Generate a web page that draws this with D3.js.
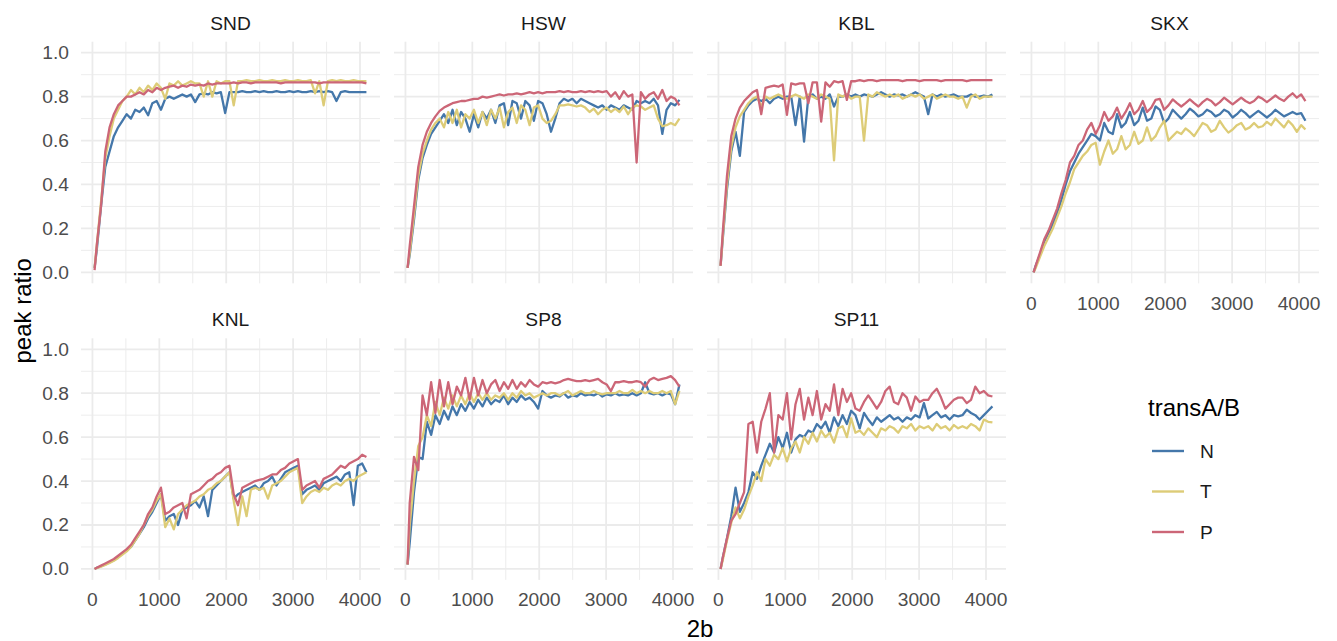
<!DOCTYPE html>
<html>
<head>
<meta charset="utf-8">
<script src="https://cdn.jsdelivr.net/npm/d3@7"></script>
<style>
  body { margin: 0; background: #fff; }
  svg { font-family: "Liberation Sans", Arial, sans-serif; }
</style>
</head>
<body>
<svg id="chart" width="1337" height="641"></svg>
<script>
// x values (2b) shared by every series
const xs = [32, 64, 128, 192, 256, 320, 384, 448, 512,
  576, 640, 704, 768, 832, 896, 960, 1024,
  1088, 1152, 1216, 1280, 1344, 1408, 1472, 1536,
  1600, 1664, 1728, 1792, 1856, 1920, 1984, 2048,
  2112, 2176, 2240, 2304, 2368, 2432, 2496, 2560,
  2624, 2688, 2752, 2816, 2880, 2944, 3008, 3072,
  3136, 3200, 3264, 3328, 3392, 3456, 3520, 3584,
  3648, 3712, 3776, 3840, 3904, 3968, 4032, 4096];

const panelNames = ["SND", "HSW", "KBL", "SKX", "KNL", "SP8", "SP11"];
const seriesNames = ["N", "T", "P"];
const seriesColors = ["#4477AA", "#DDCC77", "#CC6677"];
const xTicks = [0, 1000, 2000, 3000, 4000];
const xMinor = [500, 1500, 2500, 3500];
const yTicks = [0, 0.2, 0.4, 0.6, 0.8, 1.0];
const yMinor = [0.1, 0.3, 0.5, 0.7, 0.9];

// SND
const sndN = [0.02, 0.10, 0.30, 0.48, 0.55, 0.62, 0.66, 0.69, 0.72,
  0.70, 0.74, 0.73, 0.75, 0.715, 0.77, 0.78, 0.74,
  0.79, 0.80, 0.79, 0.80, 0.81, 0.80, 0.81, 0.775,
  0.81, 0.815, 0.81, 0.82, 0.815, 0.82, 0.725, 0.82,
  0.82, 0.82, 0.825, 0.82, 0.82, 0.825, 0.82, 0.825,
  0.82, 0.82, 0.825, 0.82, 0.82, 0.825, 0.82, 0.825,
  0.82, 0.82, 0.825, 0.82, 0.825, 0.82, 0.825, 0.82,
  0.78, 0.82, 0.825, 0.82, 0.82, 0.82, 0.82, 0.82];
const sndT = [0.02, 0.12, 0.32, 0.52, 0.62, 0.70, 0.74, 0.78, 0.80,
  0.83, 0.81, 0.84, 0.82, 0.85, 0.83, 0.86, 0.84,
  0.79, 0.86, 0.85, 0.87, 0.85, 0.86, 0.87, 0.86,
  0.86, 0.80, 0.87, 0.80, 0.87, 0.86, 0.87, 0.87,
  0.76, 0.87, 0.87, 0.875, 0.87, 0.87, 0.875, 0.87,
  0.87, 0.875, 0.87, 0.87, 0.875, 0.87, 0.87, 0.875,
  0.87, 0.87, 0.875, 0.815, 0.87, 0.76, 0.87, 0.875,
  0.87, 0.875, 0.87, 0.87, 0.875, 0.87, 0.87, 0.87];
const sndP = [0.01, 0.12, 0.30, 0.55, 0.66, 0.72, 0.76, 0.78, 0.80,
  0.80, 0.81, 0.82, 0.81, 0.83, 0.82, 0.84, 0.83,
  0.84, 0.845, 0.85, 0.84, 0.85, 0.845, 0.855, 0.85,
  0.855, 0.85, 0.86, 0.855, 0.86, 0.86, 0.86, 0.86,
  0.865, 0.86, 0.865, 0.865, 0.86, 0.865, 0.865, 0.865,
  0.865, 0.865, 0.865, 0.86, 0.865, 0.865, 0.865, 0.865,
  0.865, 0.865, 0.865, 0.865, 0.86, 0.865, 0.865, 0.865,
  0.865, 0.865, 0.865, 0.865, 0.865, 0.865, 0.865, 0.86];

// HSW
const hswN = [0.02, 0.08, 0.24, 0.42, 0.52, 0.58, 0.63, 0.66, 0.69,
  0.72, 0.68, 0.74, 0.67, 0.73, 0.70, 0.64, 0.72,
  0.66, 0.73, 0.70, 0.74, 0.68, 0.76, 0.77, 0.67,
  0.78, 0.77, 0.70, 0.78, 0.76, 0.69, 0.78, 0.77,
  0.72, 0.64, 0.70, 0.77, 0.79, 0.78, 0.79, 0.77,
  0.79, 0.78, 0.77, 0.76, 0.75, 0.76, 0.74, 0.76,
  0.75, 0.74, 0.76, 0.75, 0.74, 0.78, 0.77, 0.78,
  0.77, 0.79, 0.76, 0.63, 0.74, 0.77, 0.76, 0.785];
const hswT = [0.02, 0.09, 0.26, 0.44, 0.54, 0.60, 0.65, 0.68, 0.70,
  0.66, 0.73, 0.68, 0.74, 0.66, 0.72, 0.70, 0.74,
  0.68, 0.73, 0.67, 0.74, 0.70, 0.75, 0.66, 0.73,
  0.75, 0.68, 0.76, 0.74, 0.67, 0.75, 0.76, 0.70,
  0.68, 0.69, 0.72, 0.76, 0.76, 0.765, 0.76, 0.755,
  0.76, 0.75, 0.73, 0.745, 0.72, 0.74, 0.75, 0.73,
  0.745, 0.73, 0.755, 0.72, 0.75, 0.76, 0.755, 0.74,
  0.75, 0.76, 0.70, 0.665, 0.67, 0.68, 0.67, 0.70];
const hswP = [0.02, 0.12, 0.30, 0.48, 0.58, 0.64, 0.68, 0.71, 0.735,
  0.75, 0.76, 0.77, 0.775, 0.78, 0.78, 0.785, 0.79,
  0.79, 0.80, 0.795, 0.80, 0.805, 0.81, 0.805, 0.81,
  0.81, 0.815, 0.81, 0.815, 0.82, 0.815, 0.82, 0.815,
  0.82, 0.82, 0.82, 0.825, 0.82, 0.825, 0.82, 0.82,
  0.825, 0.82, 0.825, 0.82, 0.825, 0.82, 0.825, 0.80,
  0.82, 0.79, 0.825, 0.80, 0.81, 0.50, 0.82, 0.79,
  0.81, 0.82, 0.79, 0.83, 0.78, 0.80, 0.79, 0.76];

// KBL
const kblN = [0.03, 0.15, 0.38, 0.55, 0.64, 0.53, 0.73, 0.76, 0.78,
  0.79, 0.78, 0.79, 0.77, 0.79, 0.80, 0.79, 0.80,
  0.80, 0.67, 0.80, 0.595, 0.80, 0.81, 0.79, 0.80,
  0.79, 0.81, 0.755, 0.80, 0.80, 0.81, 0.80, 0.81,
  0.80, 0.81, 0.805, 0.80, 0.81, 0.82, 0.81, 0.80,
  0.81, 0.805, 0.81, 0.80, 0.81, 0.82, 0.81, 0.80,
  0.72, 0.81, 0.80, 0.81, 0.80, 0.805, 0.81, 0.80,
  0.80, 0.80, 0.81, 0.80, 0.80, 0.805, 0.80, 0.81];
const kblT = [0.03, 0.16, 0.40, 0.57, 0.66, 0.71, 0.74, 0.77, 0.79,
  0.80, 0.755, 0.80, 0.79, 0.80, 0.81, 0.80, 0.79,
  0.80, 0.81, 0.80, 0.79, 0.81, 0.80, 0.79, 0.81,
  0.80, 0.79, 0.51, 0.81, 0.80, 0.81, 0.79, 0.80,
  0.80, 0.60, 0.81, 0.80, 0.82, 0.81, 0.80, 0.81,
  0.80, 0.81, 0.79, 0.80, 0.81, 0.80, 0.81, 0.79,
  0.80, 0.81, 0.79, 0.80, 0.81, 0.80, 0.80, 0.79,
  0.80, 0.75, 0.80, 0.81, 0.79, 0.80, 0.80, 0.80];
const kblP = [0.03, 0.18, 0.44, 0.62, 0.70, 0.75, 0.78, 0.80, 0.82,
  0.83, 0.72, 0.84, 0.845, 0.85, 0.845, 0.855, 0.717,
  0.86, 0.855, 0.86, 0.86, 0.77, 0.865, 0.865, 0.686,
  0.865, 0.845, 0.87, 0.865, 0.87, 0.785, 0.87, 0.87,
  0.875, 0.87, 0.875, 0.875, 0.87, 0.875, 0.875, 0.875,
  0.875, 0.875, 0.87, 0.875, 0.875, 0.875, 0.87, 0.875,
  0.875, 0.875, 0.875, 0.87, 0.875, 0.875, 0.875, 0.875,
  0.875, 0.87, 0.875, 0.875, 0.875, 0.875, 0.875, 0.875];

// SKX
const skxN = [0.00, 0.03, 0.08, 0.14, 0.18, 0.22, 0.27, 0.33, 0.40,
  0.46, 0.50, 0.54, 0.57, 0.60, 0.63, 0.62, 0.60,
  0.68, 0.64, 0.63, 0.72, 0.66, 0.68, 0.73, 0.67,
  0.69, 0.75, 0.69, 0.70, 0.755, 0.74, 0.68, 0.70,
  0.74, 0.72, 0.70, 0.72, 0.745, 0.73, 0.71, 0.72,
  0.74, 0.73, 0.71, 0.72, 0.74, 0.73, 0.705, 0.72,
  0.74, 0.725, 0.705, 0.72, 0.735, 0.72, 0.705, 0.72,
  0.74, 0.725, 0.71, 0.72, 0.73, 0.72, 0.725, 0.69];
const skxT = [0.00, 0.02, 0.07, 0.12, 0.16, 0.20, 0.25, 0.30, 0.36,
  0.41, 0.47, 0.50, 0.53, 0.55, 0.58, 0.59, 0.49,
  0.55, 0.60, 0.54, 0.56, 0.62, 0.56, 0.58, 0.64,
  0.585, 0.60, 0.66, 0.60, 0.62, 0.66, 0.69, 0.60,
  0.62, 0.64, 0.63, 0.655, 0.64, 0.62, 0.65, 0.68,
  0.67, 0.64, 0.65, 0.69, 0.66, 0.636, 0.65, 0.67,
  0.68, 0.65, 0.66, 0.68, 0.66, 0.665, 0.685, 0.67,
  0.70, 0.68, 0.66, 0.69, 0.67, 0.64, 0.67, 0.65];
const skxP = [0.00, 0.03, 0.09, 0.15, 0.19, 0.24, 0.29, 0.36, 0.42,
  0.50, 0.53, 0.58, 0.60, 0.65, 0.68, 0.63, 0.67,
  0.73, 0.69, 0.71, 0.75, 0.70, 0.73, 0.77, 0.72,
  0.74, 0.78, 0.73, 0.75, 0.785, 0.79, 0.74, 0.76,
  0.787, 0.77, 0.755, 0.77, 0.787, 0.77, 0.755, 0.775,
  0.79, 0.78, 0.76, 0.775, 0.795, 0.78, 0.765, 0.78,
  0.795, 0.78, 0.77, 0.78, 0.80, 0.79, 0.775, 0.79,
  0.805, 0.79, 0.78, 0.80, 0.815, 0.795, 0.81, 0.78];

// KNL
const knlN = [0.00, 0.005, 0.012, 0.02, 0.03, 0.04, 0.055, 0.07, 0.085,
  0.10, 0.13, 0.16, 0.19, 0.23, 0.26, 0.30, 0.34,
  0.22, 0.24, 0.25, 0.20, 0.27, 0.28, 0.29, 0.31,
  0.28, 0.33, 0.24, 0.36, 0.38, 0.40, 0.42, 0.44,
  0.32, 0.34, 0.35, 0.36, 0.37, 0.38, 0.36, 0.39,
  0.40, 0.42, 0.38, 0.41, 0.44, 0.45, 0.46, 0.47,
  0.34, 0.36, 0.37, 0.38, 0.36, 0.39, 0.40, 0.41,
  0.42, 0.40, 0.43, 0.44, 0.29, 0.47, 0.48, 0.44];
const knlT = [0.00, 0.004, 0.01, 0.018, 0.027, 0.037, 0.05, 0.065, 0.08,
  0.10, 0.13, 0.16, 0.20, 0.24, 0.27, 0.31, 0.34,
  0.19, 0.23, 0.18, 0.25, 0.27, 0.29, 0.30, 0.31,
  0.33, 0.34, 0.36, 0.37, 0.39, 0.40, 0.42, 0.44,
  0.31, 0.20, 0.33, 0.24, 0.36, 0.37, 0.36, 0.37,
  0.32, 0.38, 0.39, 0.40, 0.42, 0.44, 0.45, 0.46,
  0.30, 0.33, 0.35, 0.36, 0.35, 0.37, 0.36, 0.38,
  0.39, 0.38, 0.40, 0.41, 0.40, 0.42, 0.43, 0.44];
const knlP = [0.00, 0.005, 0.015, 0.025, 0.035, 0.045, 0.06, 0.075, 0.09,
  0.11, 0.14, 0.17, 0.20, 0.25, 0.28, 0.33, 0.37,
  0.25, 0.26, 0.28, 0.29, 0.30, 0.23, 0.34, 0.35,
  0.36, 0.38, 0.40, 0.41, 0.43, 0.44, 0.46, 0.47,
  0.34, 0.29, 0.37, 0.38, 0.39, 0.40, 0.405, 0.41,
  0.42, 0.43, 0.43, 0.45, 0.46, 0.48, 0.49, 0.50,
  0.36, 0.38, 0.39, 0.40, 0.37, 0.41, 0.42, 0.43,
  0.45, 0.47, 0.46, 0.48, 0.49, 0.50, 0.52, 0.51];

// SP8
const sp8N = [0.02, 0.12, 0.35, 0.51, 0.50, 0.67, 0.61, 0.70, 0.66,
  0.72, 0.68, 0.74, 0.70, 0.75, 0.72, 0.76, 0.73,
  0.77, 0.74, 0.78, 0.75, 0.77, 0.76, 0.79, 0.75,
  0.78, 0.76, 0.79, 0.77, 0.78, 0.76, 0.73, 0.81,
  0.79, 0.78, 0.79, 0.785, 0.80, 0.78, 0.79, 0.785,
  0.80, 0.79, 0.795, 0.79, 0.80, 0.785, 0.795, 0.79,
  0.80, 0.79, 0.795, 0.79, 0.80, 0.79, 0.80, 0.85,
  0.80, 0.795, 0.80, 0.79, 0.80, 0.795, 0.75, 0.84];
const sp8T = [0.02, 0.20, 0.40, 0.56, 0.60, 0.70, 0.65, 0.76, 0.70,
  0.78, 0.73, 0.79, 0.74, 0.79, 0.75, 0.80, 0.76,
  0.80, 0.77, 0.80, 0.77, 0.79, 0.78, 0.80, 0.77,
  0.80, 0.78, 0.81, 0.79, 0.80, 0.78, 0.79, 0.80,
  0.79, 0.80, 0.80, 0.79, 0.80, 0.81, 0.79, 0.80,
  0.81, 0.80, 0.80, 0.81, 0.80, 0.795, 0.80, 0.80,
  0.80, 0.81, 0.80, 0.80, 0.815, 0.80, 0.81, 0.80,
  0.81, 0.80, 0.80, 0.81, 0.80, 0.81, 0.75, 0.81];
const sp8P = [0.02, 0.30, 0.51, 0.45, 0.79, 0.70, 0.85, 0.71, 0.86,
  0.74, 0.85, 0.75, 0.83, 0.79, 0.87, 0.77, 0.87,
  0.79, 0.86, 0.80, 0.84, 0.86, 0.81, 0.85, 0.82,
  0.86, 0.82, 0.85, 0.83, 0.86, 0.84, 0.83, 0.85,
  0.845, 0.85, 0.845, 0.85, 0.86, 0.865, 0.86, 0.855,
  0.855, 0.86, 0.855, 0.86, 0.865, 0.85, 0.84, 0.81,
  0.85, 0.85, 0.855, 0.85, 0.85, 0.855, 0.85, 0.83,
  0.86, 0.87, 0.86, 0.865, 0.87, 0.878, 0.86, 0.83];

// SP11
const sp11N = [0.00, 0.05, 0.14, 0.24, 0.37, 0.26, 0.30, 0.35, 0.44,
  0.41, 0.47, 0.52, 0.57, 0.53, 0.60, 0.55, 0.62,
  0.53, 0.59, 0.61, 0.60, 0.63, 0.62, 0.66, 0.64,
  0.67, 0.62, 0.69, 0.65, 0.70, 0.66, 0.72, 0.70,
  0.64, 0.71, 0.68, 0.655, 0.69, 0.67, 0.685, 0.70,
  0.68, 0.69, 0.67, 0.69, 0.68, 0.70, 0.69, 0.755,
  0.685, 0.70, 0.715, 0.69, 0.70, 0.68, 0.70, 0.695,
  0.70, 0.725, 0.71, 0.70, 0.68, 0.70, 0.72, 0.74];
const sp11T = [0.00, 0.04, 0.13, 0.21, 0.28, 0.23, 0.27, 0.33, 0.38,
  0.44, 0.40, 0.50, 0.47, 0.52, 0.50, 0.55, 0.49,
  0.55, 0.58, 0.53, 0.60, 0.57, 0.62, 0.58, 0.63,
  0.60, 0.62, 0.575, 0.64, 0.65, 0.60, 0.686, 0.62,
  0.63, 0.61, 0.64, 0.62, 0.60, 0.64, 0.63, 0.65,
  0.64, 0.62, 0.65, 0.64, 0.66, 0.63, 0.65, 0.64,
  0.65, 0.63, 0.66, 0.64, 0.65, 0.63, 0.655, 0.64,
  0.65, 0.64, 0.66, 0.65, 0.63, 0.68, 0.67, 0.667];
const sp11P = [0.00, 0.05, 0.14, 0.22, 0.25, 0.30, 0.35, 0.66, 0.67,
  0.53, 0.67, 0.73, 0.80, 0.53, 0.70, 0.68, 0.80,
  0.59, 0.75, 0.82, 0.68, 0.78, 0.70, 0.81, 0.68,
  0.75, 0.72, 0.84, 0.70, 0.82, 0.76, 0.80, 0.73,
  0.72, 0.76, 0.79, 0.76, 0.73, 0.76, 0.81, 0.83,
  0.76, 0.75, 0.80, 0.78, 0.72, 0.785, 0.76, 0.77,
  0.77, 0.80, 0.82, 0.78, 0.73, 0.75, 0.77, 0.78,
  0.78, 0.755, 0.77, 0.83, 0.80, 0.81, 0.79, 0.785];

const panelSeries = [
  [sndN, sndT, sndP], [hswN, hswT, hswP], [kblN, kblT, kblP], [skxN, skxT, skxP],
  [knlN, knlT, knlP], [sp8N, sp8T, sp8P], [sp11N, sp11T, sp11P]
];

panelSeries.forEach((ss, i) => ss.forEach((s, j) => {
  if (s.length !== xs.length) throw new Error(`${panelNames[i]} ${seriesNames[j]}: ${s.length}`);
}));

var cfg = {
  left: 81,
  colStep: 313,
  tops: [41.7, 338.3],
  pw: 299,
  ph: 241.6,
  ncol: 4
};

var scale = {
  x: d3.scaleLinear().domain([-171, 4299]).range([0, cfg.pw]),
  y: d3.scaleLinear().domain([-0.05, 1.05]).range([cfg.ph, 0])
};

const svg = d3.select("#chart");
const gridColor = "#EBEBEB";
const line = d3.line()
  .x((d) => scale.x(d[0]))
  .y((d) => scale.y(d[1]));

panelNames.forEach((name, i) => {
  const col = i % cfg.ncol;
  const row = Math.floor(i / cfg.ncol);
  const px = cfg.left + col * cfg.colStep;
  const py = cfg.tops[row];
  const g = svg.append("g").attr("transform", `translate(${px},${py})`);

  // minor grid
  g.selectAll(".xminor").data(xMinor).enter().append("line")
    .attr("x1", (d) => scale.x(d)).attr("x2", (d) => scale.x(d))
    .attr("y1", 0).attr("y2", cfg.ph)
    .attr("stroke", gridColor).attr("stroke-width", 0.9);
  g.selectAll(".yminor").data(yMinor).enter().append("line")
    .attr("y1", (d) => scale.y(d)).attr("y2", (d) => scale.y(d))
    .attr("x1", 0).attr("x2", cfg.pw)
    .attr("stroke", gridColor).attr("stroke-width", 0.9);
  // major grid
  g.selectAll(".xmajor").data(xTicks).enter().append("line")
    .attr("x1", (d) => scale.x(d)).attr("x2", (d) => scale.x(d))
    .attr("y1", 0).attr("y2", cfg.ph)
    .attr("stroke", gridColor).attr("stroke-width", 1.8);
  g.selectAll(".ymajor").data(yTicks).enter().append("line")
    .attr("y1", (d) => scale.y(d)).attr("y2", (d) => scale.y(d))
    .attr("x1", 0).attr("x2", cfg.pw)
    .attr("stroke", gridColor).attr("stroke-width", 1.8);

  // strip label
  svg.append("text")
    .attr("x", px + cfg.pw / 2)
    .attr("y", py - 18.5)
    .attr("text-anchor", "middle")
    .attr("dominant-baseline", "central")
    .attr("fill", "#1A1A1A")
    .style("font-size", "19.2px")
    .text(name);

  // series
  panelSeries[i].forEach((vals, j) => {
    g.append("path")
      .datum(xs.map((x, k) => [x, vals[k]]))
      .attr("d", line)
      .attr("fill", "none")
      .attr("stroke", seriesColors[j])
      .attr("stroke-width", 2.3)
      .attr("stroke-linejoin", "round");
  });

  // y tick labels on first column
  if (col === 0) {
    g.selectAll(".ylab").data(yTicks).enter().append("text")
      .attr("x", -12)
      .attr("y", (d) => scale.y(d))
      .attr("text-anchor", "end")
      .attr("dominant-baseline", "central")
      .attr("fill", "#4D4D4D")
      .style("font-size", "19.2px")
      .text((d) => d3.format(".1f")(d));
  }
  // x tick labels where no panel sits below
  if (row === 1 || i + cfg.ncol >= panelNames.length) {
    g.selectAll(".xlab").data(xTicks).enter().append("text")
      .attr("x", (d) => scale.x(d))
      .attr("y", cfg.ph + 20)
      .attr("text-anchor", "middle")
      .attr("dominant-baseline", "central")
      .attr("fill", "#4D4D4D")
      .style("font-size", "19.2px")
      .text((d) => d);
  }
});

// axis titles
svg.append("text")
  .attr("transform", `translate(22,${(cfg.tops[0] + cfg.tops[1] + cfg.ph) / 2}) rotate(-90)`)
  .attr("text-anchor", "middle")
  .attr("dominant-baseline", "central")
  .attr("fill", "#000")
  .style("font-size", "24px")
  .text("peak ratio");

svg.append("text")
  .attr("x", cfg.left + (3 * cfg.colStep + cfg.pw) / 2)
  .attr("y", 628)
  .attr("text-anchor", "middle")
  .attr("dominant-baseline", "central")
  .attr("fill", "#000")
  .style("font-size", "24px")
  .text("2b");

// legend
const legend = svg.append("g").attr("transform", "translate(1148,407)");
legend.append("text")
  .attr("x", 0).attr("y", 0)
  .attr("dominant-baseline", "central")
  .attr("fill", "#000")
  .style("font-size", "24px")
  .text("transA/B");
const items = legend.selectAll(".item").data(seriesNames).enter().append("g")
  .attr("transform", (d, j) => `translate(0,${44 + j * 40.5})`);
items.append("line")
  .attr("x1", 4).attr("x2", 36).attr("y1", 0).attr("y2", 0)
  .attr("stroke", (d, j) => seriesColors[j])
  .attr("stroke-width", 2.4);
items.append("text")
  .attr("x", 52).attr("y", 0)
  .attr("dominant-baseline", "central")
  .attr("fill", "#1A1A1A")
  .style("font-size", "19.2px")
  .text((d) => d);
</script>
</body>
</html>
